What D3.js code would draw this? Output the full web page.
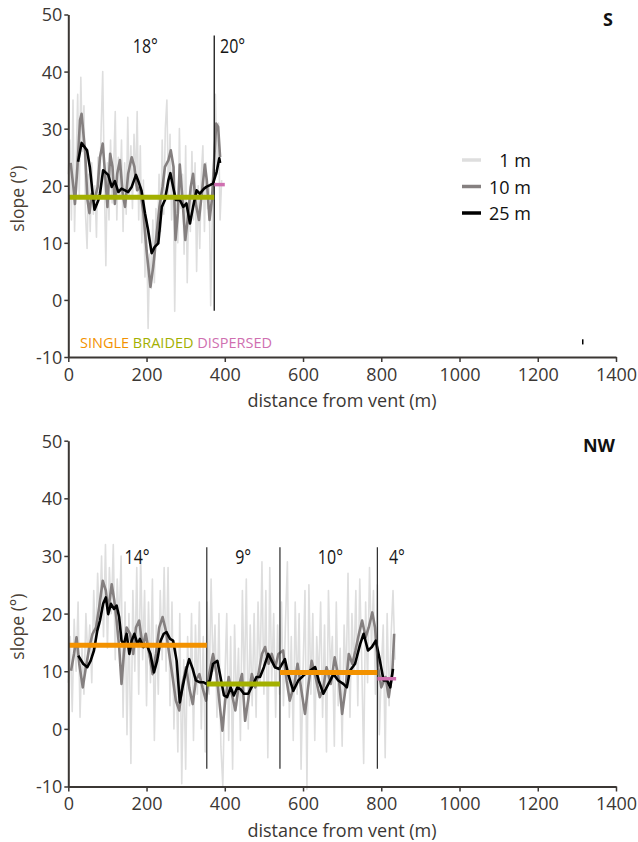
<!DOCTYPE html>
<html>
<head>
<meta charset="utf-8">
<script src="https://cdn.jsdelivr.net/npm/d3@7"></script>
<style>
  body { margin: 0; background: #fff; }
  svg { display: block; font-family: "Open Sans", "Noto Sans", sans-serif; }
</style>
</head>
<body>
<svg id="chart" width="638" height="842"></svg>
<script>
// ---------------- DATA ----------------
const xTicks = [0, 200, 400, 600, 800, 1000, 1200, 1400];
const yTicks = [-10, 0, 10, 20, 30, 40, 50];
const legendLabels = ["1 m", "10 m", "25 m"];
const typeLabels = ["SINGLE", "BRAIDED", "DISPERSED"];

// S panel: 1 m slope, sampled every 4 m starting at 0 m
const sRawStart = 0, sRawStep = 4;
const sRaw = [22, 28, 14, 35, 12, 24, 36, 18, 39, 26, 34, 15, 9, 22, 12, 24, 15, 20, 11, 25,
  18, 30, 40, 21, 6, 24, 14, 28, 17, 23, 33, 14, 25, 18, 28, 12, 24, 15, 32, 18,
  27, 16, 29, 20, 33, 14, 27, 10, 21, 4, 14, -5, 8, 2, 14, 3, 16, 10, 22, 12,
  28, 15, 30, 35, 18, 29, 14, 24, -2, 18, 10, 30, 16, 22, 8, 27, 3, 18, 12, 26,
  14, 24, 5, 20, 9, 22, 27, 12, 24, 16, 20, -1, 14, 26, 36, 22, 31, 14, 21];
// S panel: 10 m smoothed [distance, slope]
const s10 = [[6,24],[13,19.8],[17,16.8],[23,23],[30,31.5],[34,32.6],[43,25.9],[49,17.5],[54,15.2],[60,18.6],
  [67,17.5],[75,19.8],[81,25],[88,27.4],[94,22.1],[100,16.3],[107,25.6],[113,23.3],[119,16.8],[125,22.1],
  [132,24.5],[139,18.6],[145,16.3],[153,22.1],[162,25],[169,23.3],[176,19.2],[183,19.8],[192,15.2],[200,8.7],
  [210,2.3],[217,5.8],[226,11.7],[233,16.3],[241,19.8],[247,23.3],[256,24.5],[262,26.2],[269,23.3],[274,10.5],
  [280,15.2],[285,23.7],[292,17.5],[299,10.5],[306,14.6],[313,19.8],[319,22.1],[326,16.8],[334,14],[343,19.8],
  [349,23.7],[354,21],[361,14],[367,17.5],[373,24.5],[378,30.9],[383,30.3],[388,25]];
// S panel: 25 m smoothed [distance, slope]
const s25 = [[25,24.2],[34,27.5],[48,26.2],[55,23.3],[64,17.5],[67,15.8],[77,17.5],[81,18.6],[89,22.7],[102,21.9],
  [111,19.8],[119,20.8],[128,18.9],[136,19.5],[145,19.2],[153,18.9],[162,19.8],[173,21.9],[179,20.8],[187,19.2],
  [196,15.2],[204,12.2],[213,8.2],[221,9.3],[230,9.9],[239,16.3],[247,17.5],[256,21],[261,22.2],[268,19.8],
  [275,17.5],[285,17.5],[294,16.3],[302,16.9],[311,13.4],[319,16.3],[328,19.2],[336,18.6],[347,19.5],[353,19.8],
  [362,20.1],[370,20.4],[379,22.4],[386,24.8],[388,24]];
// S panel: flow-type segments [start, end, mean slope, type]
const sSegments = [[0, 373, 18, "BRAIDED"], [373, 400, 20.2, "DISPERSED"]];
const sBreaks = [373];
const sSegLabels = [[197, "18°"], [420, "20°"]];
const sMarker = [1315, -6.9, -7.8];

// NW panel: 1 m slope, sampled every 5 m starting at 0 m
const nwRawStart = 0, nwRawStep = 5;
const nwRaw = [8, 16, 3, 19, 10, 22, 2, 14, 6, 20,
  12, 18, 8, 24, 14, 27, 18, 30, 16, 32,
  14, 28, 20, 32, 12, 26, 18, 30, 2, 22,
  -1, 20, -6, 24, 10, 28, 6, 30, 12, 24,
  4, 22, 8, 26, -2, 18, 6, 24, 12, 28,
  10, 28, 4, 22, 0, 14, -4, 20, -9.5, 12,
  -7, 16, 4, 20, -2, 18, 6, 22, 0, 16,
  -4, 22, 6, 26, 10, 18, 2, 20, -3, -10,
  8, 20, -2, 16, -7, 18, 4, 14, -2, 24,
  6, 26, 0, 18, 4, 20, 2, 22, 8, 29,
  6, 24, -5, 28, 8, 20, 2, 18, 6, 22,
  4, 18, 29, 2, 16, -2, 22, 6, 20, -7,
  10, 24, -10.5, 25, 6, 20, -2, 16, 8, 22,
  2, 18, -4, 24, 10, 16, -3, 22, 4, 14,
  -3, 18, 8, 27, 2, 20, 10, 24, 4, 26,
  12, -6, 22, 8, 28, 14, 24, 6, 25, -1,
  10, 18, -5, 20, 4, 16, 24, 12];
// NW panel: 10 m smoothed [distance, slope]
const nw10 = [[7,10.1],[14.5,13],[21,15.9],[28,11.3],[37,7.2],[45,10.7],[54,14.2],[62,16.5],[71,17.6],[79,21.1],
  [88,25.7],[96,24],[102,20.5],[111,25.1],[117.5,22.3],[123.5,18.8],[130,14.2],[136,7.8],[142,13],[149,17.6],
  [158,16.5],[166,13],[173,17.6],[181,18.8],[190,14.2],[198,16.5],[207,13],[215.5,9.5],[224,13],[232.5,17.6],
  [241,19.4],[249.6,17],[258,13],[266.6,9],[275,4.9],[283.6,3.2],[292,7.8],[301,10.7],[309,7.2],[318,4.3],
  [326,8.4],[335,9.5],[343,7.2],[352,4.9],[360,9.5],[370,13],[379,9.5],[387.6,3.8],[394,-0.3],[401,4.9],
  [410,9],[418,6.1],[427,3.2],[435,7.2],[444,9.5],[452,1.4],[461,5.5],[469,9.5],[478,7.2],[486,9.5],
  [495,13],[503,14.2],[512,11.3],[520,13],[529,10.7],[537,13],[549,13.6],[558,8.4],[566,4.9],[578,7.8],
  [586,11.3],[596,6.6],[605,2.6],[613,7.2],[622,11.8],[632,9],[643,5.5],[652,7.2],[660,10.7],[671,7.8],
  [681,12.4],[692,8.4],[700,2.6],[709,7.2],[717,13],[726,11.3],[734,13.6],[743,16.5],[751,18.8],[760,15.9],
  [768,17.6],[777,20.2],[784,17.6],[792,10.7],[800,7.2],[811,9],[819,5.5],[828,9.5],[833,16.5]];
// NW panel: 25 m smoothed [distance, slope]
const nw25 = [[25.5,12.7],[38,11.3],[48.6,10.7],[57,11.8],[65.6,13.6],[74,17],[81,18.8],[89,21.7],[96,22.8],[102,19.9],
  [109,21.7],[117,20.8],[123.5,21.4],[130,19.4],[136,15.3],[142,14.7],[149,16.5],[156,13],[162,15.3],[169,16.5],
  [177,14.7],[183,15.6],[192,14.2],[200,14.7],[210,13],[219,9.8],[227,11.8],[236,15.3],[244,16.5],[251,16.8],
  [260,15.6],[268,15.3],[277,11.8],[285,4.6],[292,7.2],[301,10.1],[309,12.1],[318,10.4],[326,8.4],[335,8.1],
  [345,8.1],[353,7.8],[362,8.4],[370,11.3],[381,11.8],[389,9],[398,5.8],[406,5.5],[415,7.2],[423,5.8],
  [432,7.2],[440,6.9],[449,6.1],[460,6.1],[473,7.8],[481,9],[490,9],[500,10.7],[511,13],[520,11.8],
  [528,10.7],[539,10.4],[553.6,12.1],[562,9.5],[575,6.6],[588,8.4],[605,9.5],[618,10.1],[631,10.7],[640,8.4],
  [652,6.1],[665,7.8],[678,9.5],[690,8.4],[703,7.8],[712,7.2],[720,10.1],[733,11.3],[746,14.7],[755,16.5],
  [766,13.6],[776,14.2],[786,15.3],[795,12.4],[806,8.4],[815,8.4],[823,7.2],[830,10.4]];
const nwSegments = [[0, 354, 14.5, "SINGLE"], [354, 541, 7.8, "BRAIDED"], [541, 790, 9.8, "SINGLE"], [790, 838, 8.7, "DISPERSED"]];
const nwBreaks = [354, 541, 790];
const nwSegLabels = [[176, "14°"], [447, "9°"], [670, "10°"], [840, "4°"]];

// ---------------- STYLE ----------------
const typeColor = { SINGLE: "#f39200", BRAIDED: "#a3b000", DISPERSED: "#cf6fb0" };
const seriesColor = ["#dedede", "#858080", "#000000"];
const seriesWidth = [1.6, 2.6, 2.6];
const axisColor = "#3b3734";

const svg = d3.select("#chart");
const x = d3.scaleLinear().domain([0, 1400]).range([68.3, 616]);

function panel(cfg) {
  const y = d3.scaleLinear().domain([-10, 50]).range([cfg.bottom, cfg.top]);
  const g = svg.append("g");
  const line = d3.line().x(d => x(d[0])).y(d => y(d[1]));

  const raw = cfg.raw.map((v, i) => [cfg.rawStart + i * cfg.rawStep, v]);
  [raw, cfg.s10, cfg.s25].forEach((data, i) => {
    g.append("path").datum(data).attr("d", line)
      .attr("fill", "none").attr("stroke", seriesColor[i])
      .attr("stroke-width", seriesWidth[i]).attr("stroke-linejoin", "round");
  });

  g.selectAll(".brk").data(cfg.breaks).join("line")
    .attr("x1", d => x(d)).attr("x2", d => x(d))
    .attr("y1", y(cfg.breakTop)).attr("y2", y(cfg.breakBottom))
    .attr("stroke", cfg.breakColor).attr("stroke-width", 1.2);

  g.selectAll(".seg").data(cfg.segments).join("line")
    .attr("x1", d => x(d[0])).attr("x2", d => x(d[1]))
    .attr("y1", d => y(d[2])).attr("y2", d => y(d[2]))
    .attr("stroke", d => typeColor[d[3]])
    .attr("stroke-width", d => d[3] === "DISPERSED" ? 3.5 : 5);

  // segment labels (narrow, condensed look)
  g.selectAll(".sl").data(cfg.segLabels).join("text")
    .attr("transform", d => `translate(${x(d[0])},${y(cfg.labelValue)}) scale(0.78,1)`)
    .attr("text-anchor", "middle").attr("dominant-baseline", "central")
    .attr("font-size", 20.5).attr("font-weight", 500).attr("fill", "#151515").text(d => d[1]);

  const yAxis = g.append("g").attr("transform", `translate(${x(0)},0)`)
    .call(d3.axisLeft(y).tickValues(yTicks).tickFormat(d => String(d))
      .tickSize(4).tickSizeOuter(0).tickPadding(2));
  const xAxis = g.append("g").attr("transform", `translate(0,${y(-10)})`)
    .call(d3.axisBottom(x).tickValues(xTicks).tickFormat(d => String(d))
      .tickSize(5).tickSizeOuter(0).tickPadding(6));
  [xAxis, yAxis].forEach(a => {
    a.select(".domain").attr("stroke", axisColor).attr("stroke-width", 2);
    a.selectAll(".tick line").attr("stroke", axisColor).attr("stroke-width", 1.5);
    a.selectAll(".tick text").attr("font-size", 18).attr("fill", axisColor)
      .attr("font-family", "'Open Sans', sans-serif");
  });
  yAxis.selectAll(".tick text").attr("dy", "0.36em");

  g.append("text").attr("x", 342).attr("y", y(-10) + 50)
    .attr("text-anchor", "middle").attr("font-size", 18).attr("fill", axisColor)
    .text("distance from vent (m)");
  g.append("text").attr("transform", `translate(24,${(y(50) + y(-10)) / 2 + 13}) rotate(-90)`)
    .attr("text-anchor", "middle").attr("font-size", 17.5).attr("fill", "#4a3f36")
    .text("slope (°)");

  g.append("text").attr("x", cfg.nameX).attr("y", y(50) + 11)
    .attr("text-anchor", "middle").attr("font-size", 18).attr("font-weight", "bold")
    .attr("fill", "#111").text(cfg.name);
  return { g, y };
}

const topPanel = panel({
  top: 14.5, bottom: 357, raw: sRaw, rawStart: sRawStart, rawStep: sRawStep,
  s10: s10, s25: s25, segments: sSegments, breaks: sBreaks, breakTop: 46.3, breakBottom: -1.9,
  breakColor: "#000", segLabels: sSegLabels, labelValue: 44.7, name: "S", nameX: 608
});
const botPanel = panel({
  top: 440.7, bottom: 786.5, raw: nwRaw, rawStart: nwRawStart, rawStep: nwRawStep,
  s10: nw10, s25: nw25, segments: nwSegments, breaks: nwBreaks, breakTop: 31.5, breakBottom: -6.9,
  breakColor: "#2a2a2a", segLabels: nwSegLabels, labelValue: 30.0, name: "NW", nameX: 599
});

topPanel.g.append("line").attr("x1", x(sMarker[0])).attr("x2", x(sMarker[0]))
  .attr("y1", topPanel.y(sMarker[1])).attr("y2", topPanel.y(sMarker[2]))
  .attr("stroke", "#000").attr("stroke-width", 1.5);

const key = topPanel.g.append("text").attr("x", 80).attr("y", topPanel.y(-7.4)).attr("font-size", 14.5)
  .attr("dominant-baseline", "central");
typeLabels.forEach((t, i) => {
  key.append("tspan").attr("fill", typeColor[t]).text((i ? " " : "") + t);
});

const leg = topPanel.g.append("g");
legendLabels.forEach((l, i) => {
  const yy = 160 + i * 26.5;
  leg.append("line").attr("x1", 462).attr("x2", 481).attr("y1", yy).attr("y2", yy)
    .attr("stroke", seriesColor[i]).attr("stroke-width", 3.5);
  leg.append("text").attr("x", 531).attr("y", yy).attr("text-anchor", "end")
    .attr("dominant-baseline", "central").attr("font-size", 18).attr("fill", "#111").text(l);
});
</script>
</body>
</html>
